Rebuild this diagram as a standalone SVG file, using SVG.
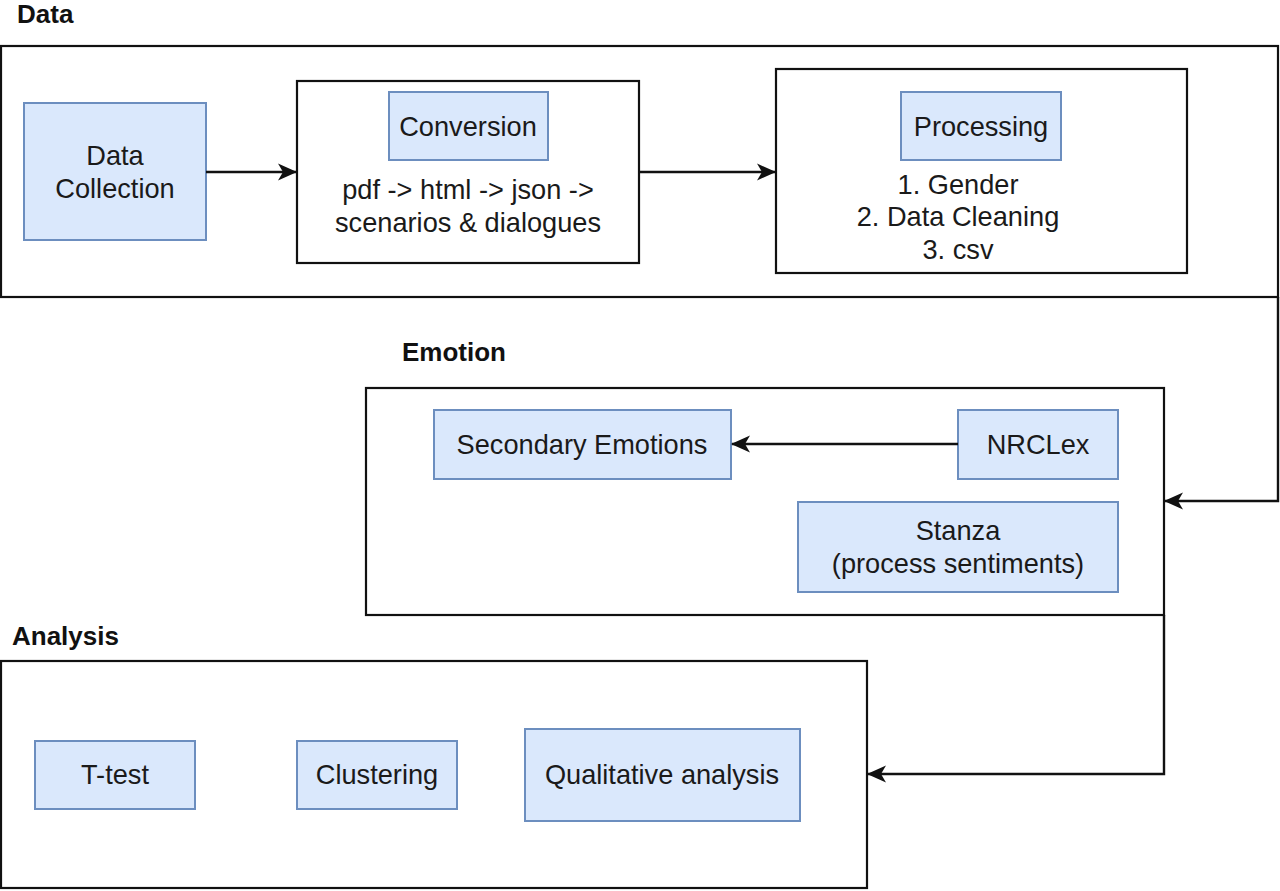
<svg xmlns="http://www.w3.org/2000/svg" width="1280" height="891" viewBox="0 0 1280 891">
<defs>
<style>
.bg{fill:#ffffff}
.cont{fill:#ffffff;stroke:#111111;stroke-width:2.2}
.blue{fill:#dae8fc;stroke:#6c8ebf;stroke-width:2}
.t{font-family:"Liberation Sans",Arial,sans-serif;font-size:27.2px;fill:#1a1a1a;text-anchor:middle;dominant-baseline:central}
.h{font-family:"Liberation Sans",Arial,sans-serif;font-size:26px;font-weight:bold;fill:#111111}
.conn{fill:none;stroke:#111111;stroke-width:2.4}
</style>
<marker id="arrL" viewBox="0 0 20 20" refX="18" refY="10" markerWidth="20" markerHeight="20" markerUnits="userSpaceOnUse" orient="auto">
<path d="M0,1.5 L19,10 L0,18.5 L5,10 Z" fill="#111111"/>
</marker>
</defs>
<rect class="bg" x="0" y="0" width="1280" height="891"/>

<g id="group-data">
<text class="h" x="17" y="23">Data</text>
<rect class="cont" x="1" y="46" width="1277" height="251"/>
</g>
<g id="node-data-collection">
<rect class="blue" x="24" y="103" width="182" height="137"/>
<text class="t" x="115" y="155">Data</text>
<text class="t" x="115" y="188">Collection</text>
</g>
<g id="node-conversion-box">
<rect class="cont" x="297" y="81" width="342" height="182"/>
<text class="t" x="468" y="189">pdf -&gt; html -&gt; json -&gt;</text>
<text class="t" x="468" y="222">scenarios &amp; dialogues</text>
</g>
<g id="node-conversion">
<rect class="blue" x="389" y="92" width="159" height="68"/>
<text class="t" x="468" y="126">Conversion</text>
</g>
<g id="node-processing-box">
<rect class="cont" x="776" y="69" width="411" height="204"/>
<text class="t" x="958" y="184">1. Gender</text>
<text class="t" x="958" y="216">2. Data Cleaning</text>
<text class="t" x="958" y="249">3. csv</text>
</g>
<g id="node-processing">
<rect class="blue" x="901" y="92" width="160" height="68"/>
<text class="t" x="981" y="126">Processing</text>
</g>

<g id="group-emotion">
<text class="h" x="402" y="361">Emotion</text>
<rect class="cont" x="366" y="388" width="798" height="227"/>
</g>
<g id="node-secondary">
<rect class="blue" x="434" y="410" width="297" height="69"/>
<text class="t" x="582" y="444">Secondary Emotions</text>
</g>
<g id="node-nrclex">
<rect class="blue" x="958" y="410" width="160" height="69"/>
<text class="t" x="1038" y="444">NRCLex</text>
</g>
<g id="node-stanza">
<rect class="blue" x="798" y="502" width="320" height="90"/>
<text class="t" x="958" y="530">Stanza</text>
<text class="t" x="958" y="563">(process sentiments)</text>
</g>

<g id="group-analysis">
<text class="h" x="12" y="645">Analysis</text>
<rect class="cont" x="1" y="661" width="866" height="227"/>
</g>
<g id="node-ttest">
<rect class="blue" x="35" y="741" width="160" height="68"/>
<text class="t" x="115" y="774">T-test</text>
</g>
<g id="node-clustering">
<rect class="blue" x="297" y="741" width="160" height="68"/>
<text class="t" x="377" y="774">Clustering</text>
</g>
<g id="node-qualitative">
<rect class="blue" x="525" y="729" width="275" height="92"/>
<text class="t" x="662" y="774">Qualitative analysis</text>
</g>

<g id="connectors">
<path class="conn" d="M206,172 L296,172" marker-end="url(#arrL)"/>
<path class="conn" d="M639,172 L775,172" marker-end="url(#arrL)"/>
<path class="conn" d="M958,444 L732,444" marker-end="url(#arrL)"/>
<path class="conn" d="M1278,297 L1278,501 L1165,501" marker-end="url(#arrL)"/>
<path class="conn" d="M1164,615 L1164,774 L868,774" marker-end="url(#arrL)"/>
</g>
</svg>
